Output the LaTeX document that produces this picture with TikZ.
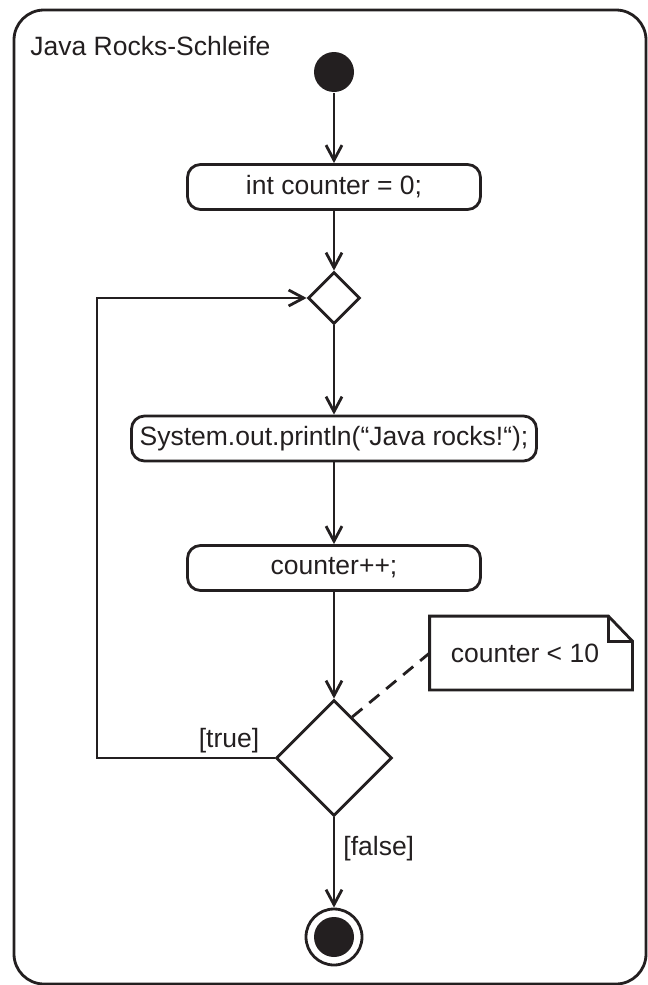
\documentclass[tikz,border=0pt]{standalone}
\usepackage{fontspec}
\setmainfont{Liberation Sans}
\usetikzlibrary{shapes.geometric,arrows.meta}
\definecolor{ink}{HTML}{231F20}
\begin{document}
\begin{tikzpicture}[x=1bp,y=-1bp,
  color=ink, line width=2.8bp,
  every node/.style={font=\fontsize{26.5bp}{30bp}\selectfont},
  action/.style={draw, rectangle, rounded corners=13bp, minimum height=45bp, inner sep=0pt},
  choice/.style={draw, diamond, aspect=1, inner sep=0pt},
  flow/.style={-{Straight Barb[length=15bp,width=16bp]}},
  commentline/.style={dash pattern=on 13bp off 9bp},
]
\useasboundingbox (0,0) rectangle (648,985);

% activity frame
\draw[rounded corners=30bp] (14,10) rectangle (646,984);
\node[anchor=base west, inner sep=0pt] (title) at (29,55) {Java Rocks-Schleife};

% nodes
\node[circle, fill, minimum size=40bp, inner sep=0pt] (start) at (334,72) {};
\node[action, minimum width=293bp] (init) at (334,187) {int counter = 0;};
\node[choice, minimum width=52bp, minimum height=52bp] (merge) at (334,298) {};
\node[action, minimum width=405bp] (print) at (334,438.5) {System.out.println(“Java rocks!“);};
\node[action, minimum width=293bp] (incr) at (334,568) {counter++;};
\node[choice, minimum width=116bp, minimum height=116bp] (decide) at (334,758) {};
\node[circle, draw, minimum size=56bp, inner sep=0pt,
      path picture={\fill (path picture bounding box.center) circle (20bp);}] (end) at (334,937) {};

% note with folded corner
\node[minimum width=200bp, minimum height=71bp, inner sep=0pt] (note) at (531,653) {\hspace*{-12bp}counter < 10};
\draw (note.north west) -- ([xshift=-24bp]note.north east) -- ([yshift=-25bp]note.north east)
      -- (note.south east) -- (note.south west) -- cycle;
\draw ([xshift=-24bp]note.north east) |- ([yshift=-25bp]note.north east);

% control flow
\coordinate (loop) at (97,758);
\draw[flow] (start) -- (init);
\draw[flow] (init) -- (merge);
\draw[flow] (merge) -- (print);
\draw[flow] (print) -- (incr);
\draw[flow] (incr) -- (decide);
\draw[flow] (decide.west) -- (loop) |- (merge.west);
\draw[flow] (decide) -- (end);
\draw[commentline] (decide.66) -- (note.west);

% guards
\node[anchor=base, inner sep=0pt] (guardtrue) at (229,747) {[true]};
\node[anchor=base west, inner sep=0pt] (guardfalse) at (342,855) {[false]};
\end{tikzpicture}
\end{document}
